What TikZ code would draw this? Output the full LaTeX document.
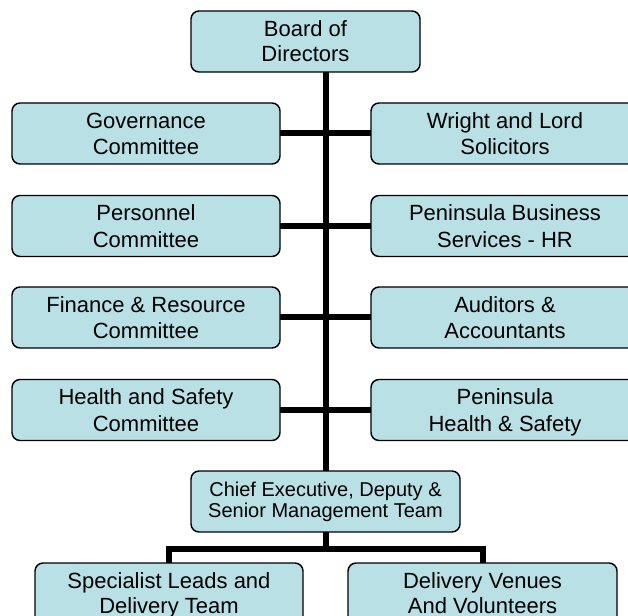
\documentclass[tikz,border=0pt]{standalone}
\usepackage{fontspec}
\setmainfont{Liberation Sans}
\definecolor{boxfill}{RGB}{185,224,228}
\newcommand{\bstrut}{\rule[-3.45pt]{0pt}{18.7pt}}
\tikzset{
  orgbox/.style={draw=black, line width=1.1pt, fill=boxfill, rounded corners=6pt,
    align=center, inner sep=0pt, outer sep=0pt, minimum height=45.75pt,
    font=\fontsize{16.5}{19.8}\selectfont},
  tightbox/.style={orgbox, font=\fontsize{16.5}{18.75}\selectfont},
  smallbox/.style={orgbox, font=\fontsize{15}{15.8}\selectfont},
  link/.style={line width=4.5pt, line join=miter}
}
\begin{document}
\begin{tikzpicture}[x=0.75pt,y=0.75pt,yscale=-1,xscale=1]
\useasboundingbox (0,0) rectangle (628,616);

%Board at the top
\node [tightbox, minimum width=171.75pt] (board) at (305.5,41.5) {\bstrut Board of\\\bstrut Directors};

%Committees on the left
\node [orgbox, minimum width=201pt] (gov) at (146,133.5) {\bstrut Governance\\\bstrut Committee};
\node [orgbox, minimum width=201pt] (pers) at (146,226) {\bstrut Personnel\\\bstrut Committee};
\node [orgbox, minimum width=201pt] (fin) at (146,317.5) {\bstrut Finance \& Resource\\\bstrut Committee};
\node [orgbox, minimum width=201pt] (hs) at (146,410) {\bstrut Health and Safety\\\bstrut Committee};

%Advisers on the right
\node [orgbox, minimum width=201pt] (solic) at (505,133.5) {\bstrut Wright and Lord\\\bstrut Solicitors};
\node [orgbox, minimum width=201pt] (hr) at (505,226) {\bstrut Peninsula Business\\\bstrut Services - HR};
\node [orgbox, minimum width=201pt] (audit) at (505,317.5) {\bstrut Auditors \&\\\bstrut Accountants};
\node [orgbox, minimum width=201pt] (penhs) at (505,410) {\bstrut Peninsula\\\bstrut Health \& Safety};

%Management
\node [smallbox, minimum width=201.75pt] (chief) at (325.5,501.5) {Chief Executive, Deputy \&\\Senior Management Team};

%Delivery
\node [tightbox, minimum width=201pt] (spec) at (169,593.5) {\bstrut Specialist Leads and\\\bstrut Delivery Team};
\node [tightbox, minimum width=201.75pt] (venue) at (482.5,593.5) {\bstrut Delivery Venues\\\bstrut And Volunteers};

%Connectors
\coordinate (bar) at (325.5,549);
\begin{scope}[on background layer/.try]
\draw [link] (chief.north |- board.south) -- (chief.north);
\draw [link] (gov.east) -- (solic.west);
\draw [link] (pers.east) -- (hr.west);
\draw [link] (fin.east) -- (audit.west);
\draw [link] (hs.east) -- (penhs.west);
\draw [link] (chief.south) -- (bar);
\draw [link] (spec.north) |- (bar) -| (venue.north);
\end{scope}

\end{tikzpicture}
\end{document}
